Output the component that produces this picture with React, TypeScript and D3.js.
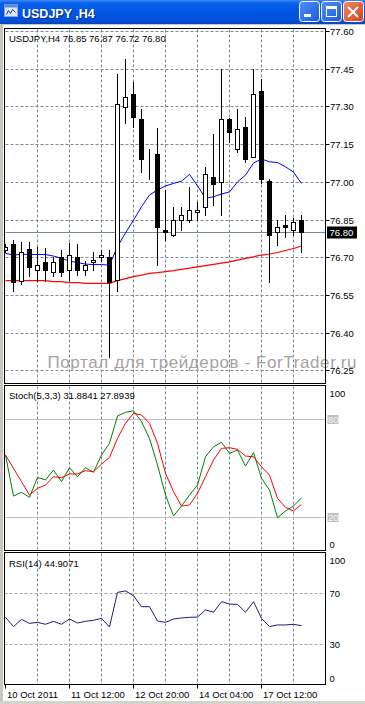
import React, { useEffect, useRef } from 'react';
import * as d3 from 'd3';

const W = 365;
const H = 704;

// ---- data (H4 candles, index 0..37) ----
const opens = [76.730, 76.751, 76.605, 76.732, 76.650, 76.682, 76.642, 76.703, 76.650, 76.703, 76.650, 76.682, 76.700, 76.703, 76.610, 77.299, 77.350, 77.251, 77.101, 77.112, 76.809, 76.788, 76.848, 76.850, 76.880, 76.901, 77.021, 76.999, 77.251, 77.132, 77.220, 77.100, 77.360, 77.002, 76.800, 76.830, 76.808, 76.850];
const highs = [76.755, 76.772, 76.764, 76.762, 76.743, 76.740, 76.704, 76.732, 76.759, 76.756, 76.687, 76.722, 76.732, 76.731, 77.430, 77.491, 77.399, 77.291, 77.133, 77.218, 76.970, 76.903, 76.903, 76.983, 76.923, 77.062, 77.193, 77.450, 77.256, 77.291, 77.260, 77.450, 77.411, 77.013, 76.850, 76.870, 76.859, 76.870];
const lows = [76.720, 76.563, 76.592, 76.623, 76.605, 76.602, 76.623, 76.623, 76.608, 76.629, 76.629, 76.647, 76.682, 76.302, 76.563, 77.231, 77.218, 77.039, 77.011, 76.668, 76.768, 76.781, 76.807, 76.840, 76.848, 76.866, 76.906, 76.866, 77.158, 77.118, 77.077, 77.100, 76.992, 76.601, 76.747, 76.780, 76.787, 76.720];
const closes = [76.742, 76.601, 76.722, 76.660, 76.671, 76.650, 76.682, 76.642, 76.708, 76.650, 76.668, 76.690, 76.708, 76.600, 77.311, 77.339, 77.257, 77.091, 77.099, 76.820, 76.800, 76.849, 76.870, 76.890, 76.890, 77.032, 76.992, 77.251, 77.198, 77.212, 77.090, 77.350, 77.011, 76.789, 76.821, 76.820, 76.841, 76.800];

const maFast = [76.718, 76.711, 76.714, 76.713, 76.713, 76.713, 76.707, 76.698, 76.687, 76.681, 76.675, 76.673, 76.673, 76.671, 76.745, 76.799, 76.850, 76.903, 76.950, 76.970, 76.986, 76.996, 77.005, 77.032, 76.986, 76.937, 76.943, 76.954, 76.962, 77.002, 77.029, 77.077, 77.093, 77.082, 77.079, 77.062, 77.041, 76.996];
const maSlow = [76.609, 76.609, 76.609, 76.609, 76.609, 76.609, 76.605, 76.605, 76.601, 76.601, 76.598, 76.598, 76.598, 76.598, 76.609, 76.617, 76.625, 76.631, 76.638, 76.641, 76.645, 76.649, 76.654, 76.659, 76.664, 76.669, 76.674, 76.679, 76.684, 76.691, 76.698, 76.704, 76.711, 76.715, 76.721, 76.729, 76.737, 76.747];

const stochK = [58.1, 33.0, 35.3, 32.2, 44.4, 42.8, 48.9, 41.8, 50.3, 44.8, 50.3, 47.5, 58.1, 65.2, 81.9, 84.1, 85.1, 78.4, 68.2, 52.0, 33.6, 20.8, 26.9, 33.6, 39.7, 57.0, 63.1, 65.8, 59.1, 61.1, 51.3, 59.5, 43.8, 36.7, 19.8, 23.9, 26.9, 31.88];
const stochD = [58.1, 49.9, 41.8, 33.6, 37.7, 39.7, 44.8, 44.2, 46.5, 46.5, 48.5, 47.9, 52.4, 56.6, 68.2, 77.4, 83.5, 82.5, 77.4, 65.2, 46.9, 35.7, 26.9, 27.5, 34.7, 44.8, 55.0, 62.1, 62.5, 61.5, 57.4, 57.0, 50.9, 45.8, 31.6, 26.1, 23.9, 27.89];
const rsi = [51.4, 44.2, 49.8, 46.7, 47.5, 46.0, 48.3, 46.0, 50.1, 47.0, 48.3, 49.1, 50.6, 43.9, 70.7, 71.8, 68.1, 59.6, 59.6, 48.5, 47.5, 50.1, 50.9, 51.4, 51.6, 57.1, 55.3, 63.5, 61.7, 61.4, 55.3, 63.5, 50.6, 44.2, 45.5, 45.5, 46.0, 44.91];

const priceTicks = [77.60, 77.45, 77.30, 77.15, 77.00, 76.85, 76.70, 76.55, 76.40, 76.25];
const timeLabels = ['10 Oct 2011', '11 Oct 12:00', '12 Oct 20:00', '14 Oct 04:00', '17 Oct 12:00'];
const timeLabelIdx = [0, 8, 16, 24, 32];
const gridIdx = [4, 8, 12, 16, 20, 24, 28, 32, 36];
const stochLevels = [80, 20];
const rsiLevels = [70, 30];
const lastPrice = 76.80;

const FONT = '"Liberation Sans", Arial, sans-serif';

export default function App() {
  const ref = useRef<SVGSVGElement>(null);

  useEffect(() => {
    document.body.style.margin = '0';
    const svg = d3.select(ref.current);
    svg.selectAll('*').remove();

    const L = 4.5, R = 325.5;
    const main = { top: 28.5, bottom: 383.5 };
    const stP = { top: 385.5, bottom: 550.5 };
    const rsP = { top: 552.5, bottom: 684.5 };

    const n = closes.length;
    const x = d3.scaleLinear().domain([0, n - 1]).range([5.5, 5.5 + 8 * (n - 1)]);
    const y = d3.scaleLinear().domain([76.25, 77.60]).range([370.9, 31.6]);
    const ys = d3.scaleLinear().domain([0, 100]).range([550.1, 386.3]);
    const yr = d3.scaleLinear().domain([0, 100]).range([683.75, 554.5]);
    const crisp = (v: number) => Math.round(v - 0.5) + 0.5;

    svg.append('rect').attr('width', W).attr('height', H).attr('fill', '#ffffff');

    const defs = svg.append('defs');
    const mkClip = (id: string, t: number, b: number) =>
      defs.append('clipPath').attr('id', id).append('rect')
        .attr('x', L + 0.5).attr('y', t + 0.5).attr('width', R - L - 1).attr('height', b - t - 1);
    mkClip('cMain', main.top, main.bottom);
    mkClip('cSt', stP.top, stP.bottom);
    mkClip('cRs', rsP.top, rsP.bottom);

    const grad = defs.append('linearGradient').attr('id', 'tb').attr('x1', 0).attr('y1', 0).attr('x2', 0).attr('y2', 1);
    [[0, '#3d8af7'], [0.12, '#0a62ec'], [0.5, '#0055e5'], [0.85, '#0052dc'], [1, '#0944b5']].forEach(([o, c]) =>
      grad.append('stop').attr('offset', o as number).attr('stop-color', c as string));
    const bgrad = defs.append('linearGradient').attr('id', 'btn').attr('x1', 0).attr('y1', 0).attr('x2', 1).attr('y2', 1);
    [[0, '#4f8ff8'], [1, '#1c5ae0']].forEach(([o, c]) =>
      bgrad.append('stop').attr('offset', o as number).attr('stop-color', c as string));
    const cgrad = defs.append('linearGradient').attr('id', 'cbtn').attr('x1', 0).attr('y1', 0).attr('x2', 1).attr('y2', 1);
    [[0, '#f08a6a'], [1, '#d0401c']].forEach(([o, c]) =>
      cgrad.append('stop').attr('offset', o as number).attr('stop-color', c as string));

    // ---- title bar ----
    svg.append('rect').attr('x', 0).attr('y', 0).attr('width', W).attr('height', 24).attr('fill', 'url(#tb)');
    const icon = svg.append('g');
    icon.append('rect').attr('x', 4.5).attr('y', 4.5).attr('width', 13).attr('height', 12).attr('fill', '#dfe8f7').attr('stroke', '#8aa6d6');
    icon.append('rect').attr('x', 4.5).attr('y', 4.5).attr('width', 13).attr('height', 3).attr('fill', '#5b8ad8');
    icon.append('path').attr('d', 'M6.5,14.5 L8.5,10.5 L10.5,13.5 L12.5,9.5 L15.5,12.5').attr('fill', 'none').attr('stroke', '#1a3c9c').attr('stroke-width', 1);
    svg.append('text').attr('x', 23).attr('y', 18.5).attr('fill', '#0a2a8a').attr('font-family', FONT).attr('font-weight', 'bold').attr('font-size', 12.5).text('USDJPY ,H4');
    svg.append('text').attr('x', 22).attr('y', 17.5).attr('fill', '#ffffff').attr('font-family', FONT).attr('font-weight', 'bold').attr('font-size', 12.5).text('USDJPY ,H4');

    const btn = (bx: number, fill: string) =>
      svg.append('rect').attr('x', bx + 0.5).attr('y', 1.5).attr('width', 20).attr('height', 20).attr('rx', 3)
        .attr('fill', fill).attr('stroke', '#ffffff').attr('stroke-width', 1);
    btn(299, 'url(#btn)');
    svg.append('rect').attr('x', 304).attr('y', 14).attr('width', 7).attr('height', 3).attr('fill', '#ffffff');
    btn(321, 'url(#btn)');
    svg.append('rect').attr('x', 326.5).attr('y', 6.5).attr('width', 10).attr('height', 10).attr('fill', 'none').attr('stroke', '#ffffff').attr('stroke-width', 1);
    svg.append('rect').attr('x', 326).attr('y', 6).attr('width', 11).attr('height', 3).attr('fill', '#ffffff');
    btn(343, 'url(#cbtn)');
    svg.append('path').attr('d', 'M348,7 L358,17 M358,7 L348,17').attr('stroke', '#ffffff').attr('stroke-width', 2);

    // window frame pieces
    svg.append('rect').attr('x', 0).attr('y', 24).attr('width', W).attr('height', 1).attr('fill', '#c8c8c8');
    svg.append('rect').attr('x', 0).attr('y', 24).attr('width', 3).attr('height', H - 24).attr('fill', '#c9c6be');
    svg.append('rect').attr('x', 0).attr('y', H - 3).attr('width', W).attr('height', 3).attr('fill', '#d6d3cc');

    const gridColor = '#778899';
    const dash = '3,2';

    // ---- panels: grid ----
    const vgrid = (t: number, b: number) => {
      gridIdx.forEach(i => {
        svg.append('line').attr('x1', x(i)).attr('x2', x(i)).attr('y1', t + 1).attr('y2', b)
          .attr('stroke', gridColor).attr('stroke-dasharray', dash).attr('stroke-width', 1);
      });
    };
    vgrid(main.top, main.bottom);
    vgrid(stP.top, stP.bottom);
    vgrid(rsP.top, rsP.bottom);

    priceTicks.forEach(p => {
      const yy = crisp(y(p));
      svg.append('line').attr('x1', L + 1).attr('x2', R).attr('y1', yy).attr('y2', yy)
        .attr('stroke', gridColor).attr('stroke-dasharray', dash);
    });

    // watermark
    svg.append('text').attr('x', 47.5).attr('y', 368).attr('fill', '#a89f9f')
      .attr('font-family', FONT).attr('font-size', 17).attr('textLength', 309).attr('lengthAdjust', 'spacing')
      .text('Портал для трейдеров - ForTrader.ru');

    // last price line
    svg.append('line').attr('x1', L + 1).attr('x2', R).attr('y1', crisp(y(lastPrice))).attr('y2', crisp(y(lastPrice)))
      .attr('stroke', gridColor).attr('stroke-width', 1);

    // ---- main: MAs + candles ----
    const gm = svg.append('g').attr('clip-path', 'url(#cMain)');
    const lineP = (arr: number[], ysc: (v: number) => number) =>
      d3.line<number>().x((_, i) => x(i)).y(d => ysc(d))(arr) as string;
    gm.append('path').attr('d', lineP(maSlow, y)).attr('fill', 'none').attr('stroke', '#ff0000').attr('stroke-width', 1.2);
    gm.append('path').attr('d', lineP(maFast, y)).attr('fill', 'none').attr('stroke', '#0000ff').attr('stroke-width', 1);

    closes.forEach((c, i) => {
      const o = opens[i];
      const cx = x(i);
      gm.append('line').attr('x1', cx).attr('x2', cx).attr('y1', Math.round(y(highs[i]))).attr('y2', Math.round(y(lows[i])))
        .attr('stroke', '#000000').attr('stroke-width', 1);
      const top = crisp(y(Math.max(o, c)));
      const bot = crisp(y(Math.min(o, c)));
      const bull = c >= o;
      gm.append('rect').attr('x', cx - 2).attr('y', top).attr('width', 4).attr('height', Math.max(0, bot - top))
        .attr('fill', bull ? '#ffffff' : '#000000').attr('stroke', '#000000').attr('stroke-width', 1);
    });

    // ---- stochastic ----
    const gs = svg.append('g').attr('clip-path', 'url(#cSt)');
    stochLevels.forEach(v => {
      gs.append('line').attr('x1', L).attr('x2', R).attr('y1', crisp(ys(v))).attr('y2', crisp(ys(v))).attr('stroke', '#c0c0c0');
    });
    gs.append('path').attr('d', lineP(stochK, ys)).attr('fill', 'none').attr('stroke', '#008000').attr('stroke-width', 1);
    gs.append('path').attr('d', lineP(stochD, ys)).attr('fill', 'none').attr('stroke', '#ff0000').attr('stroke-width', 1);

    // ---- RSI ----
    const gr = svg.append('g').attr('clip-path', 'url(#cRs)');
    rsiLevels.forEach(v => {
      gr.append('line').attr('x1', L).attr('x2', R).attr('y1', crisp(yr(v))).attr('y2', crisp(yr(v)))
        .attr('stroke', '#a8a8a8').attr('stroke-dasharray', dash);
    });
    gr.append('path').attr('d', lineP(rsi, yr)).attr('fill', 'none').attr('stroke', '#1c1c78').attr('stroke-width', 1);

    // ---- panel borders ----
    [main, stP, rsP].forEach(p => {
      svg.append('rect').attr('x', L).attr('y', p.top).attr('width', R - L).attr('height', p.bottom - p.top)
        .attr('fill', 'none').attr('stroke', '#000000').attr('stroke-width', 1);
    });

    const txt = (tx: number, ty: number, s: string, fill = '#000000', size = 9.5) =>
      svg.append('text').attr('x', tx).attr('y', ty).attr('fill', fill).attr('font-family', FONT).attr('font-size', size).text(s);

    // right axis main
    priceTicks.forEach(p => {
      const yy = crisp(y(p));
      svg.append('line').attr('x1', R).attr('x2', R + 4).attr('y1', yy).attr('y2', yy).attr('stroke', '#000000');
      txt(330, yy + 3.5, p.toFixed(2));
    });
    const ly = crisp(y(lastPrice));
    svg.append('rect').attr('x', 327).attr('y', ly - 6).attr('width', 30).attr('height', 12).attr('fill', '#000000');
    txt(329.5, ly + 3.5, lastPrice.toFixed(2), '#ffffff');

    // stochastic axis
    txt(329.5, 396.5, '100');
    txt(329.5, 547.5, '0');
    stochLevels.forEach(v => {
      const yy = crisp(ys(v));
      svg.append('rect').attr('x', 327.5).attr('y', yy - 4.5).attr('width', 11).attr('height', 9).attr('fill', '#c0c0c0');
      txt(328, yy + 3.5, String(v), '#f4f4f4');
    });

    // RSI axis
    txt(329.5, 563.5, '100');
    rsiLevels.forEach(v => txt(329.5, crisp(yr(v)) + 3.5, String(v)));
    txt(329.5, 681.5, '0');

    // headers
    txt(9, 41.5, `USDJPY,H4  ${opens[n - 1].toFixed(2)} ${highs[n - 1].toFixed(2)} ${lows[n - 1].toFixed(2)} ${closes[n - 1].toFixed(2)}`);
    txt(9, 398.5, 'Stoch(5,3,3) 31.8841 27.8939');
    txt(9, 566.5, 'RSI(14) 44.9071');

    // time axis
    timeLabelIdx.forEach((idx, j) => {
      const tx = Math.floor(x(idx)) + 0.5;
      svg.append('line').attr('x1', tx).attr('x2', tx).attr('y1', rsP.bottom).attr('y2', rsP.bottom + 4).attr('stroke', '#000000');
      txt(tx + 1.5, 698, timeLabels[j]);
    });
  }, []);

  return (
    <div style={{ position: 'absolute', left: 0, top: 0 }}>
      <svg ref={ref} width={W} height={H} />
    </div>
  );
}
